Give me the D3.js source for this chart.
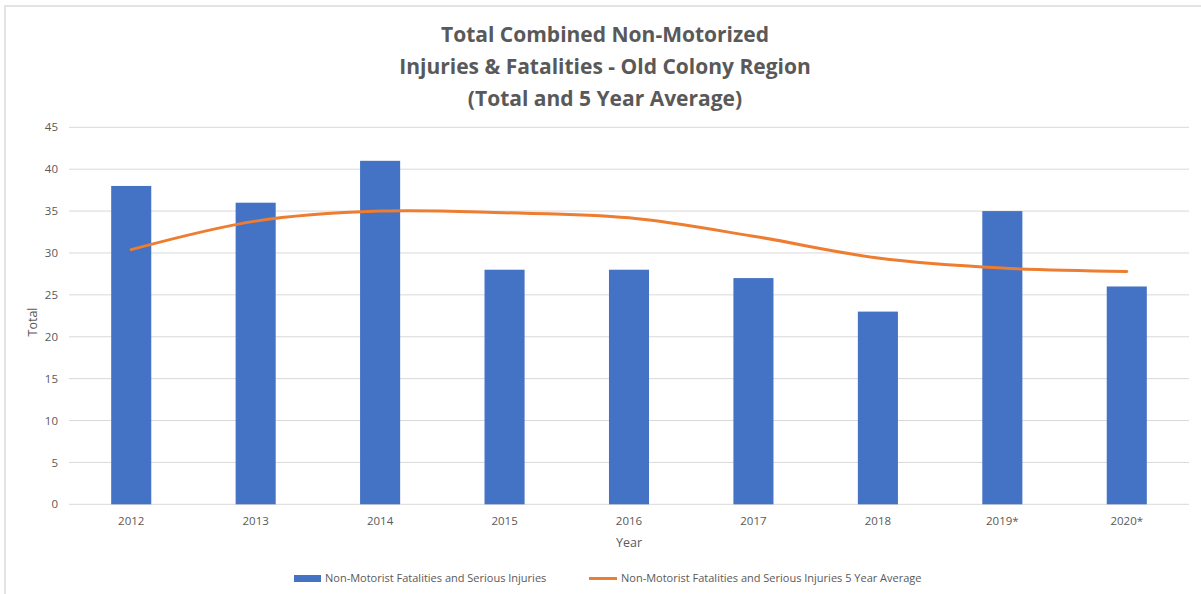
<!DOCTYPE html>
<html>
<head>
<meta charset="utf-8">
<script src="https://cdn.jsdelivr.net/npm/d3@7"></script>
<style>
  body { margin: 0; background: #fff; }
  text { font-family: "Open Sans", "Noto Sans", sans-serif; fill: #595959; }
</style>
</head>
<body>
<div id="chart"></div>
<script>
const W = 1201
const H = 594

// data
const years = ["2012", "2013", "2014", "2015", "2016", "2017", "2018", "2019*", "2020*"]
const totals = [38, 36, 41, 28, 28, 27, 23, 35, 26]
const fiveYearAvg = [30.4, 33.8, 35.0, 34.8, 34.2, 32.0, 29.4, 28.2, 27.8]
const yTicks = [0, 5, 10, 15, 20, 25, 30, 35, 40, 45]
const titleLines = ["Total Combined Non-Motorized", "Injuries & Fatalities - Old Colony Region", "(Total and 5 Year Average)"]
const barName = "Non-Motorist Fatalities and Serious Injuries"
const lineName = "Non-Motorist Fatalities and Serious Injuries 5 Year Average"

const plot = {left: 69, right: 1189, top: 127.3, bottom: 504.3}

let svg = d3.select("#chart")
    .append("svg")
    .attr("width", W)
    .attr("height", H)

// chart frame (only top & left edges visible in the crop)
svg.append("path")
    .attr("d", `M5,${H} L5,6 L${W},6`)
    .attr("fill", "none")
    .attr("stroke", "#e3e3e3")
    .attr("stroke-width", 2)

let x = d3.scaleBand()
    .domain(years)
    .range([plot.left, plot.right])
    .paddingInner(0.678)
    .paddingOuter(0.339)

let y = d3.scaleLinear()
    .domain([0, 45])
    .range([plot.bottom, plot.top])

// gridlines
svg.append("g")
    .selectAll("line")
    .data(yTicks)
    .enter()
    .append("line")
    .attr("x1", plot.left)
    .attr("x2", plot.right)
    .attr("y1", d => y(d))
    .attr("y2", d => y(d))
    .attr("stroke", "#d9d9d9")
    .attr("stroke-width", 1)

// y axis labels
let yAxis = d3.axisLeft(y).tickValues(yTicks).tickSize(0).tickPadding(11)
let gy = svg.append("g")
    .attr("transform", `translate(${plot.left},0)`)
    .call(yAxis)
gy.select(".domain").remove()
gy.selectAll("text")
    .style("font-size", "11.5px")
    .attr("fill", "#595959")

// bars
svg.append("g")
    .selectAll("rect")
    .data(totals)
    .enter()
    .append("rect")
    .attr("x", (d, i) => x(years[i]))
    .attr("y", d => y(d))
    .attr("width", x.bandwidth())
    .attr("height", d => y(0) - y(d))
    .attr("fill", "#4472c4")

// x axis labels
let xAxis = d3.axisBottom(x).tickSize(0).tickPadding(13)
let gx = svg.append("g")
    .attr("transform", `translate(0,${plot.bottom})`)
    .call(xAxis)
gx.select(".domain").remove()
gx.selectAll("text")
    .style("font-size", "11.5px")
    .attr("fill", "#595959")

// 5-year average line (Excel smoothed)
let line = d3.line()
    .x((d, i) => x(years[i]) + x.bandwidth() / 2)
    .y(d => y(d))
    .curve(d3.curveCatmullRom.alpha(0.5))

svg.append("path")
    .datum(fiveYearAvg)
    .attr("d", line)
    .attr("fill", "none")
    .attr("stroke", "#ed7d31")
    .attr("stroke-width", 3)
    .attr("stroke-linecap", "round")

// title
svg.append("g")
    .selectAll("text")
    .data(titleLines)
    .enter()
    .append("text")
    .attr("x", 605)
    .attr("y", (d, i) => 42 + i * 32)
    .attr("text-anchor", "middle")
    .style("font-size", "21px")
    .style("font-weight", "bold")
    .text(d => d)

// axis titles
svg.append("text")
    .attr("x", 629)
    .attr("y", 547)
    .attr("text-anchor", "middle")
    .style("font-size", "12.5px")
    .text("Year")

svg.append("text")
    .attr("transform", "translate(37,322) rotate(-90)")
    .attr("text-anchor", "middle")
    .style("font-size", "12.5px")
    .text("Total")

// legend
let lg = svg.append("g")
lg.append("rect")
    .attr("x", 294)
    .attr("y", 575)
    .attr("width", 27)
    .attr("height", 7)
    .attr("fill", "#4472c4")
lg.append("text")
    .attr("x", 325)
    .attr("y", 582)
    .style("font-size", "11px")
    .text(barName)
lg.append("line")
    .attr("x1", 589)
    .attr("x2", 617)
    .attr("y1", 578.5)
    .attr("y2", 578.5)
    .attr("stroke", "#ed7d31")
    .attr("stroke-width", 3)
lg.append("text")
    .attr("x", 621)
    .attr("y", 582)
    .style("font-size", "11px")
    .text(lineName)
</script>
</body>
</html>
